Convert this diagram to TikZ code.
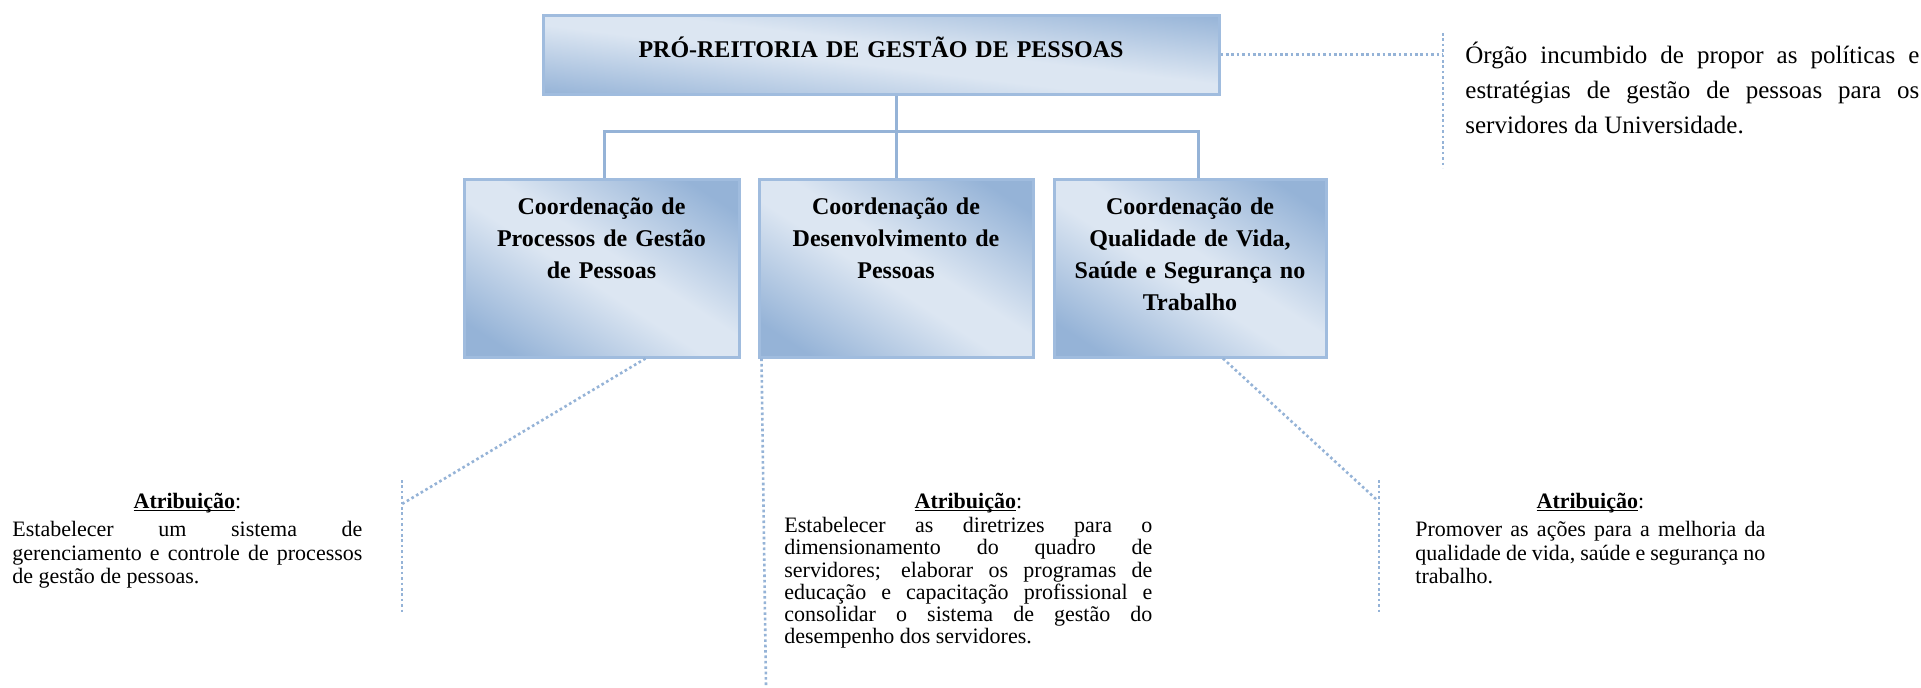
\documentclass[tikz,border=0pt]{standalone}
\usepackage{fontspec}
\setmainfont{Liberation Serif}
\usetikzlibrary{calc}
\definecolor{bdark}{RGB}{149,179,215}
\definecolor{blight}{RGB}{220,230,242}
\definecolor{bline}{RGB}{149,179,215}
\definecolor{bborder}{RGB}{160,188,222}
\pgfdeclarehorizontalshading{boxshade}{100bp}{color(0bp)=(bdark); color(22bp)=(bdark); color(46bp)=(blight); color(54bp)=(blight); color(78bp)=(bdark); color(100bp)=(bdark)}
\tikzset{
  cbox/.style={rectangle, draw=bborder, line width=1.5pt, shading=boxshade, shading angle=57, inner sep=0pt},
  tree/.style={draw=bline, line width=1.5pt},
  dotline/.style={draw=bline, line width=1.3pt, dash pattern=on 1.3pt off 1.4pt},
  btitle/.style={font=\bfseries\fontsize{12}{16}\selectfont, text width=134pt, align=center, inner sep=0pt, anchor=base},
  para/.style={font=\fontsize{11}{11.75}\selectfont, text width=175pt, align=justify, inner sep=0pt, anchor=base west,
    execute at begin node={\parindent=0pt\hyphenpenalty=10000\exhyphenpenalty=10000}},
  desc/.style={font=\fontsize{12.5}{17.5}\selectfont, text width=227pt, align=justify, inner sep=0pt, anchor=base west,
    execute at begin node={\parindent=0pt\hyphenpenalty=10000\exhyphenpenalty=10000}}
}
\newcommand{\atrhead}[1]{{\centering\underline{\smash{\textbf{Atribuição}}}:\par}\vspace{#1}}
\begin{document}
\begin{tikzpicture}[x=0.5pt,y=-0.5pt]
\path[fill=white, use as bounding box] (0,0) rectangle (1921,687);

% boxes
\node[cbox, shading angle=83, minimum width=338pt, minimum height=39.5pt] (top) at (881,54.5) {};
\node[cbox, minimum width=137.5pt, minimum height=89pt] (b1) at (601.5,268) {};
\node[cbox, minimum width=137pt, minimum height=89pt] (b2) at (896,268) {};
\node[cbox, minimum width=136pt, minimum height=89pt] (b3) at (1190,268) {};

% titles
\node[btitle, text width=330pt] (toptitle) at (881,57) {PRÓ-REITORIA DE GESTÃO DE PESSOAS};
\node[btitle] (t1) at (601.5,214) {Coordenação de\\Processos de Gestão\\de Pessoas};
\node[btitle] (t2) at (896,214) {Coordenação de\\Desenvolvimento de\\Pessoas};
\node[btitle] (t3) at (1190,214) {Coordenação de\\Qualidade de Vida,\\Saúde e Segurança no\\Trabalho};

% tree connectors
\coordinate (hj) at (896,131);
\coordinate (c1) at ($(b1.north)+(2.5,0)$);
\coordinate (c3) at ($(b3.north)+(8,0)$);
\draw[tree] (top.south -| b2.north) -- (b2.north);
\draw[tree] (c1) -- (c1 |- hj) -- (c3 |- hj) -- (c3);

% description of top
\coordinate (rt) at (1443,54.5);
\coordinate (rtop) at (1443,33);
\coordinate (rbot) at (1443,168);
\draw[dotline] (top.east) -- (rt);
\draw[dotline] (rtop) -- (rbot);
\node[desc] (d0) at (1465,63) {Órgão incumbido de propor as políticas e\linebreak estratégias de gestão de pessoas para os\linebreak servidores da Universidade.};

% box 1 attribution
\coordinate (d1a) at ($(b1.south)+(44,0)$);
\coordinate (d1b) at (402,504);
\coordinate (d1t) at (402,480);
\coordinate (d1u) at (402,613);
\draw[dotline] (d1a) -- (d1b);
\draw[dotline] (d1t) -- (d1u);
\node[para] (p1) at (12,508) {\atrhead{2.5pt}Estabelecer um sistema de\linebreak gerenciamento e controle de processos\linebreak de gestão de pessoas.};

% box 2 attribution
\coordinate (d2a) at ($(b2.south west)+(4,0)$);
\coordinate (d2b) at (766,687);
\draw[dotline] (d2a) -- (d2b);
\node[para, font=\fontsize{11}{11.1}\selectfont, text width=184pt] (p2) at (784,508) {\atrhead{1.2pt}Estabelecer as diretrizes para o\linebreak dimensionamento do quadro de\linebreak servidores; elaborar os programas de\linebreak educação e capacitação profissional e\linebreak consolidar o sistema de gestão do\linebreak desempenho dos servidores.};

% box 3 attribution
\coordinate (d3a) at ($(b3.south)+(33,0)$);
\coordinate (d3b) at (1377,500);
\coordinate (d3t) at (1379,480);
\coordinate (d3u) at (1379,613);
\draw[dotline] (d3a) -- (d3b);
\draw[dotline] (d3t) -- (d3u);
\node[para] (p3) at (1415,508) {\atrhead{2.5pt}Promover as ações para a melhoria da\linebreak qualidade de vida, saúde e segurança no\linebreak trabalho.};
\end{tikzpicture}
\end{document}
